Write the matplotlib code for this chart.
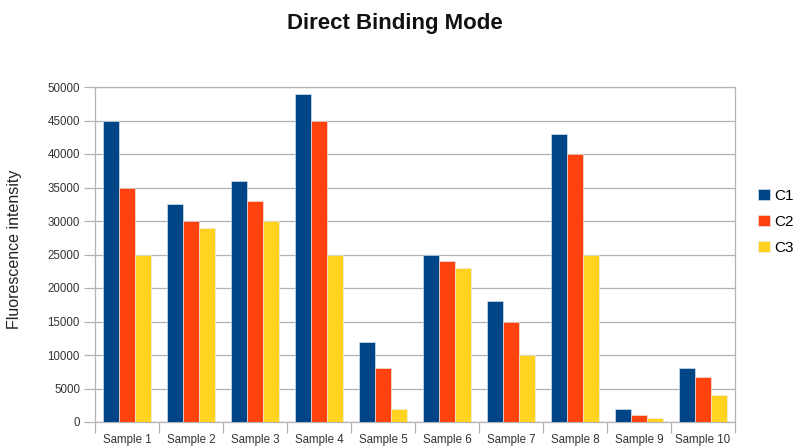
import matplotlib
matplotlib.use("Agg")
import matplotlib.pyplot as plt
import numpy as np

categories = ["Sample 1", "Sample 2", "Sample 3", "Sample 4", "Sample 5",
              "Sample 6", "Sample 7", "Sample 8", "Sample 9", "Sample 10"]
c1 = [45000, 32500, 36000, 49000, 12000, 25000, 18000, 43000, 2000, 8000]
c2 = [35000, 30000, 33000, 45000, 8000, 24000, 15000, 40000, 1000, 6700]
c3 = [25000, 29000, 30000, 25000, 2000, 23000, 10000, 25000, 600, 4000]
series = [("C1", c1, "#004586"), ("C2", c2, "#ff420e"), ("C3", c3, "#ffd320")]
yticks = list(range(0, 50001, 5000))

plt.rcParams['font.family'] = ['Liberation Sans', 'DejaVu Sans']

fig = plt.figure(figsize=(7.97, 4.46), dpi=100)
ax = fig.add_axes([95.3/797, 24/446, (735-95.3)/797, (422-87)/446])

x = np.arange(len(categories))
w = 0.252
for i, (name, vals, col) in enumerate(series):
    ax.bar(x + (i - 1) * w, vals, width=w, color=col, label=name,
           edgecolor="#e8eef5", linewidth=0.4, zorder=3)

ax.set_xlim(-0.5, len(categories) - 0.5)
ax.set_ylim(0, 50000)
ax.set_yticks(yticks)
ax.set_yticklabels([str(v) for v in yticks], fontsize=8.3, color="#333333")
ax.yaxis.grid(True, color="#b3b3b3", linewidth=0.9, zorder=0)
ax.set_axisbelow(True)

ax.set_xticks(x)
ax.set_xticklabels(categories, fontsize=8.3, color="#333333")
ax.set_xticks(np.arange(-0.5, len(categories), 1.0), minor=True)
ax.tick_params(axis="x", which="major", length=0, pad=9)
ax.tick_params(axis="x", which="minor", length=8, color="#b3b3b3", width=0.9)
ax.tick_params(axis="y", length=8, color="#b3b3b3", width=0.9, pad=3)

for s in ax.spines.values():
    s.set_color("#b3b3b3")
    s.set_linewidth(0.9)

fig.text(15/797, 1 - 249/446, "Fluorescence intensity", rotation=90,
         ha="center", va="center", fontsize=11.5, color="#222222")

fig.text(395/797, 1 - 23/446, "Direct Binding Mode", ha="center", va="center",
         fontsize=16, fontweight="bold", color="#111111")

fig.legend(loc="center left", bbox_to_anchor=(752/797, 1 - 222/446), frameon=False,
           fontsize=11, handlelength=0.75, handleheight=0.75, handletextpad=0.3,
           labelspacing=0.78, borderaxespad=0)

fig.savefig("out.png", dpi=100)
